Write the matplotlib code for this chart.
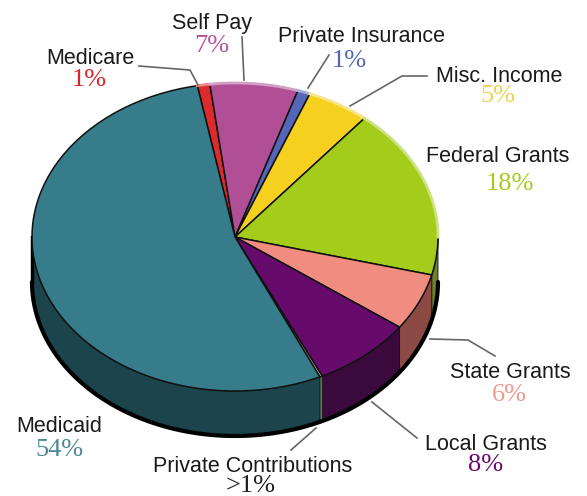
import numpy as np
import matplotlib
matplotlib.use("Agg")
import matplotlib.pyplot as plt
from matplotlib.colors import to_rgb

# slices clockwise from the Medicare edge
names = ["Medicare", "Self Pay", "Private Insurance", "Misc. Income", "Federal Grants",
         "State Grants", "Local Grants", "Private Contributions", "Medicaid"]
values = [1, 7, 1, 5, 18, 6, 8, 0.2, 54]
pct_labels = ["1%", "7%", "1%", "5%", "18%", "6%", "8%", ">1%", "54%"]
top_colors = ["#dd2a2c", "#b04f96", "#5566b8", "#f6d01f", "#a4cc1b",
              "#f08c80", "#660a6c", "#c8d8c8", "#367c8a"]
side_colors = ["#7a1416", "#5e2a50", "#2e3766", "#8a7510", "#6f7f2a",
               "#8c4a44", "#3a0a3c", "#7f8f80", "#1b444d"]
pct_colors = ["#d8262a", "#b5569c", "#5566b8", "#f0d050", "#a4cc1b",
              "#ee9a90", "#660a6c", "#222222", "#4d8793"]

W, H = 587, 496
CX, CY, RX, RY, DEPTH = 235, 237, 203, 154, 45

fig = plt.figure(figsize=(W / 100, H / 100), dpi=100)
ax = fig.add_axes([0, 0, 1, 1])
wedges, _ = ax.pie(values, colors=top_colors, startangle=100.7, counterclock=False,
                   wedgeprops=dict(edgecolor="#111111", linewidth=1.1, zorder=5))
ax.set_aspect("auto")
ax.set_xlim(-CX / RX, (W - CX) / RX)
ax.set_ylim((CY - H) / RY, CY / RY)
d = DEPTH / RY

for name, wedge, col, top in zip(names, wedges, side_colors, top_colors):
    for k in (-360, 0, 360):
        # rim of the pie, only the part facing the viewer
        a = max(wedge.theta1 + k, 180)
        b = min(wedge.theta2 + k, 360)
        if b > a:
            t = np.radians(np.linspace(a, b, 60))
            x = np.cos(t)
            y = np.sin(t)
            ax.fill(np.r_[x, x[::-1]], np.r_[y, y[::-1] - d], facecolor=col,
                    edgecolor="#111111", linewidth=0.6, zorder=3)
        # pale highlight on the back edge, Medicaid stays dark
        a = max(wedge.theta1 + k, 0)
        b = min(wedge.theta2 + k, 180)
        if b > a and name != "Medicaid":
            t = np.radians(np.linspace(a, b, 60))
            pale = 0.55 * np.array(to_rgb(top)) + 0.45
            ax.plot(np.cos(t), np.sin(t), color=pale, lw=2, zorder=6)

# dark shadow along the bottom edge
t = np.radians(np.linspace(180, 360, 200))
ax.plot(np.cos(t), np.sin(t) - d, color="black", lw=3, zorder=4, solid_capstyle="round")
ax.plot([-1, -1], [0, -d], color="black", lw=2.5, zorder=4)

# overlay in pixel coordinates for labels
ov = fig.add_axes([0, 0, 1, 1])
ov.set_xlim(0, W)
ov.set_ylim(H, 0)
ov.axis("off")
ov.patch.set_alpha(0)

name_pos = [(90, 59), (212, 24), (361, 36), (499, 76), (498, 156),
            (510, 372), (486, 444), (253, 466), (59, 427)]
pct_pos = [(89, 80), (212, 46), (349, 61), (498, 96), (510, 184),
           (509, 395), (486, 465), (251, 486), (59, 450)]
for name, pct, col, np_, pp in zip(names, pct_labels, pct_colors, name_pos, pct_pos):
    ov.text(np_[0], np_[1], name, family="Liberation Sans", fontsize=15.5, color="#1a1a1a",
            ha="center", va="center")
    ov.text(pp[0], pp[1], pct, family="Liberation Serif", fontsize=19, color=col,
            ha="center", va="center")

leaders = [
    ([139, 190, 198], [66, 70, 85]),
    ([242, 244], [37, 80]),
    ([329, 308], [55, 88]),
    ([427, 402, 350], [76, 76, 106]),
    ([430, 468, 495], [339, 340, 356]),
    ([372, 417], [402, 438]),
    ([316, 291], [428, 450]),
]
for xs, ys in leaders:
    ov.plot(xs, ys, color="#666666", lw=1.2)

fig.savefig("out.png", dpi=100, facecolor="white")
